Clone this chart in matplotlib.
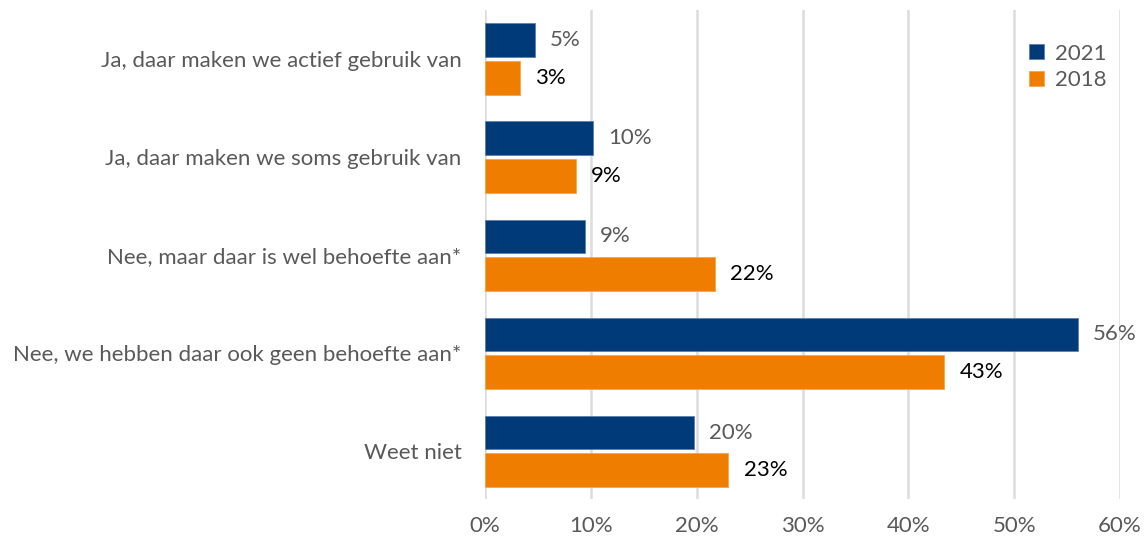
import matplotlib.pyplot as plt
from matplotlib.ticker import PercentFormatter

categories = [
    "Ja, daar maken we actief gebruik van",
    "Ja, daar maken we soms gebruik van",
    "Nee, maar daar is wel behoefte aan*",
    "Nee, we hebben daar ook geen behoefte aan*",
    "Weet niet",
]
vals_2021 = [4.7, 10.2, 9.4, 56.0, 19.7]
vals_2018 = [3.3, 8.6, 21.7, 43.4, 23.0]
xticks = [0, 10, 20, 30, 40, 50, 60]

navy = "#003a78"
orange = "#ef7d00"
grey_text = "#595959"
fs = 16

plt.rcParams['font.family'] = ['Lato', 'DejaVu Sans']

fig = plt.figure(figsize=(11.45, 5.41), dpi=100)
ax = fig.add_axes([0.4236, 0.0776, 0.5546, 0.904])

pos = list(range(len(categories)))
h = 0.343
off = 0.192
b21 = ax.barh([p - off for p in pos], vals_2021, height=h, color=navy,
              edgecolor="#5b7fae", linewidth=0.6, label="2021", zorder=3)
b18 = ax.barh([p + off for p in pos], vals_2018, height=h, color=orange,
              edgecolor="#f5a650", linewidth=0.6, label="2018", zorder=3)

for rect, v in zip(b21, vals_2021):
    ax.annotate(f"{v:.0f}%", (rect.get_width(), rect.get_y() + rect.get_height() / 2),
                xytext=(11, 0), textcoords="offset points", va="center", ha="left",
                fontsize=fs, color=grey_text)
for rect, v in zip(b18, vals_2018):
    ax.annotate(f"{v:.0f}%", (rect.get_width(), rect.get_y() + rect.get_height() / 2),
                xytext=(11, 0), textcoords="offset points", va="center", ha="left",
                fontsize=fs, color="black")

ax.set_xlim(0, 60)
ax.set_ylim(4.486, -0.5)
ax.set_xticks(xticks)
ax.xaxis.set_major_formatter(PercentFormatter(decimals=0))
ax.set_yticks(pos)
ax.set_yticklabels(categories)
ax.tick_params(axis="both", length=0, labelsize=fs, labelcolor=grey_text)
ax.tick_params(axis="y", pad=17)
ax.tick_params(axis="x", pad=12)
ax.grid(axis="x", color="#dcdcdc", linewidth=1.8, zorder=0)
for s in ax.spines.values():
    s.set_visible(False)

leg = ax.legend(loc="upper right", bbox_to_anchor=(1.01, 0.972), frameon=False,
                fontsize=fs, handlelength=0.65, handleheight=0.65, handletextpad=0.5,
                labelspacing=0.3)
for t in leg.get_texts():
    t.set_color(grey_text)

fig.savefig("out.png", dpi=100)
